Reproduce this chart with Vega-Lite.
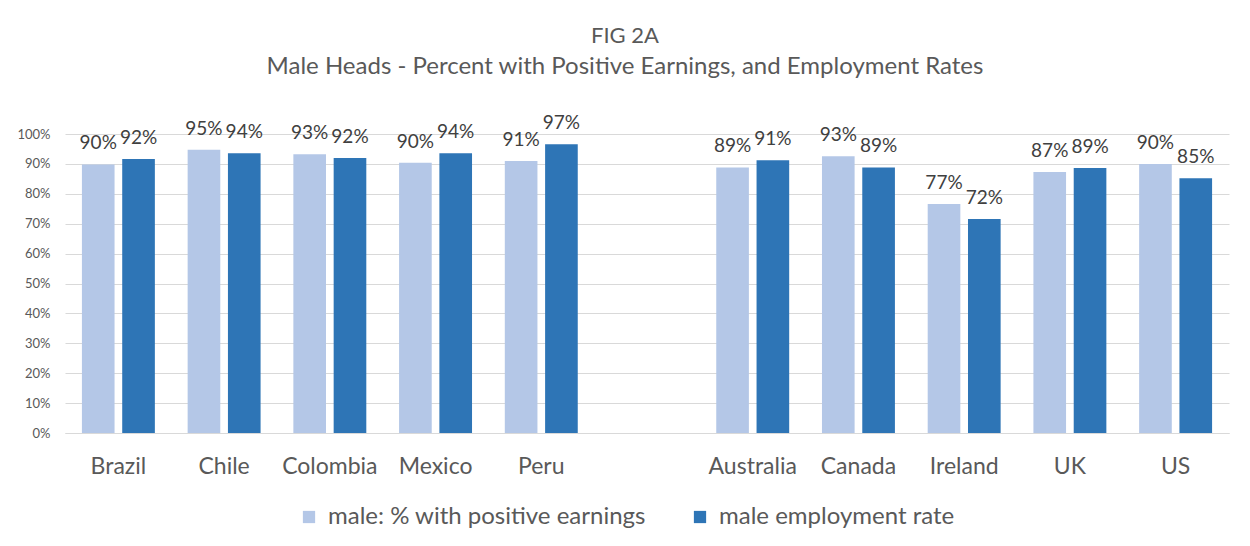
{
  "$schema": "https://vega.github.io/schema/vega-lite/v6.json",
  "width": 1164,
  "height": 299,
  "autosize": {"type": "none"},
  "padding": {"left": 65, "top": 134, "right": 21, "bottom": 113},
  "background": "white",
  "config": {
    "font": "Lato",
    "view": {"stroke": null}
  },
  "title": {
    "text": "FIG 2A",
    "subtitle": "Male Heads - Percent with Positive Earnings, and Employment Rates",
    "font": "Lato",
    "subtitleFont": "Lato",
    "fontSize": 22,
    "subtitleFontSize": 24,
    "fontWeight": "normal",
    "color": "#595959",
    "subtitleColor": "#595959",
    "anchor": "middle",
    "dx": -22,
    "offset": 34,
    "subtitlePadding": 7
  },
  "data": {
    "values": [
      {"country": "Brazil", "series": "male: % with positive earnings", "value": 0.898},
      {"country": "Brazil", "series": "male employment rate", "value": 0.916},
      {"country": "Chile", "series": "male: % with positive earnings", "value": 0.947},
      {"country": "Chile", "series": "male employment rate", "value": 0.936},
      {"country": "Colombia", "series": "male: % with positive earnings", "value": 0.932},
      {"country": "Colombia", "series": "male employment rate", "value": 0.92},
      {"country": "Mexico", "series": "male: % with positive earnings", "value": 0.904},
      {"country": "Mexico", "series": "male employment rate", "value": 0.936},
      {"country": "Peru", "series": "male: % with positive earnings", "value": 0.91},
      {"country": "Peru", "series": "male employment rate", "value": 0.966},
      {"country": "Australia", "series": "male: % with positive earnings", "value": 0.888},
      {"country": "Australia", "series": "male employment rate", "value": 0.912},
      {"country": "Canada", "series": "male: % with positive earnings", "value": 0.926},
      {"country": "Canada", "series": "male employment rate", "value": 0.888},
      {"country": "Ireland", "series": "male: % with positive earnings", "value": 0.766},
      {"country": "Ireland", "series": "male employment rate", "value": 0.716},
      {"country": "UK", "series": "male: % with positive earnings", "value": 0.873},
      {"country": "UK", "series": "male employment rate", "value": 0.886},
      {"country": "US", "series": "male: % with positive earnings", "value": 0.9},
      {"country": "US", "series": "male employment rate", "value": 0.852}
    ]
  },
  "encoding": {
    "x": {
      "field": "country",
      "type": "nominal",
      "sort": null,
      "scale": {
        "domain": ["Brazil", "Chile", "Colombia", "Mexico", "Peru", " ", "Australia", "Canada", "Ireland", "UK", "US"],
        "paddingInner": 0.31,
        "paddingOuter": 0.16
      },
      "axis": {
        "title": null,
        "labelAngle": 0,
        "labelFontSize": 23,
        "labelColor": "#595959",
        "labelPadding": 22,
        "ticks": false,
        "domainColor": "#D9D9D9",
        "grid": false
      }
    },
    "xOffset": {
      "field": "series",
      "type": "nominal",
      "sort": ["male: % with positive earnings", "male employment rate"],
      "scale": {"paddingInner": 0.19, "paddingOuter": 0}
    },
    "y": {
      "field": "value",
      "type": "quantitative",
      "scale": {"domain": [0, 1], "nice": false, "zero": true},
      "axis": {
        "title": null,
        "format": ".0%",
        "values": [0, 0.1, 0.2, 0.3, 0.4, 0.5, 0.6, 0.7, 0.8, 0.9, 1],
        "labelFontSize": 13,
        "labelColor": "#595959",
        "labelPadding": 15,
        "ticks": false,
        "domain": false,
        "grid": true,
        "gridColor": "#D9D9D9",
        "gridWidth": 1
      }
    }
  },
  "layer": [
    {
      "mark": {"type": "bar"},
      "encoding": {
        "color": {
          "field": "series",
          "type": "nominal",
          "sort": ["male: % with positive earnings", "male employment rate"],
          "scale": {
            "domain": ["male: % with positive earnings", "male employment rate"],
            "range": ["#B4C7E7", "#2E75B6"]
          },
          "legend": {
            "title": null,
            "orient": "none",
            "direction": "horizontal",
            "legendX": 232,
            "legendY": 371,
            "symbolType": "square",
            "symbolSize": 150,
            "symbolStrokeWidth": 0,
            "labelFontSize": 24,
            "labelColor": "#595959",
            "labelOffset": 7,
            "labelLimit": 0,
            "columnPadding": 42
          }
        }
      }
    },
    {
      "mark": {"type": "text", "baseline": "alphabetic", "dy": -15, "fontSize": 19, "color": "#404040"},
      "encoding": {
        "text": {"field": "value", "type": "quantitative", "format": ".0%"}
      }
    }
  ]
}
